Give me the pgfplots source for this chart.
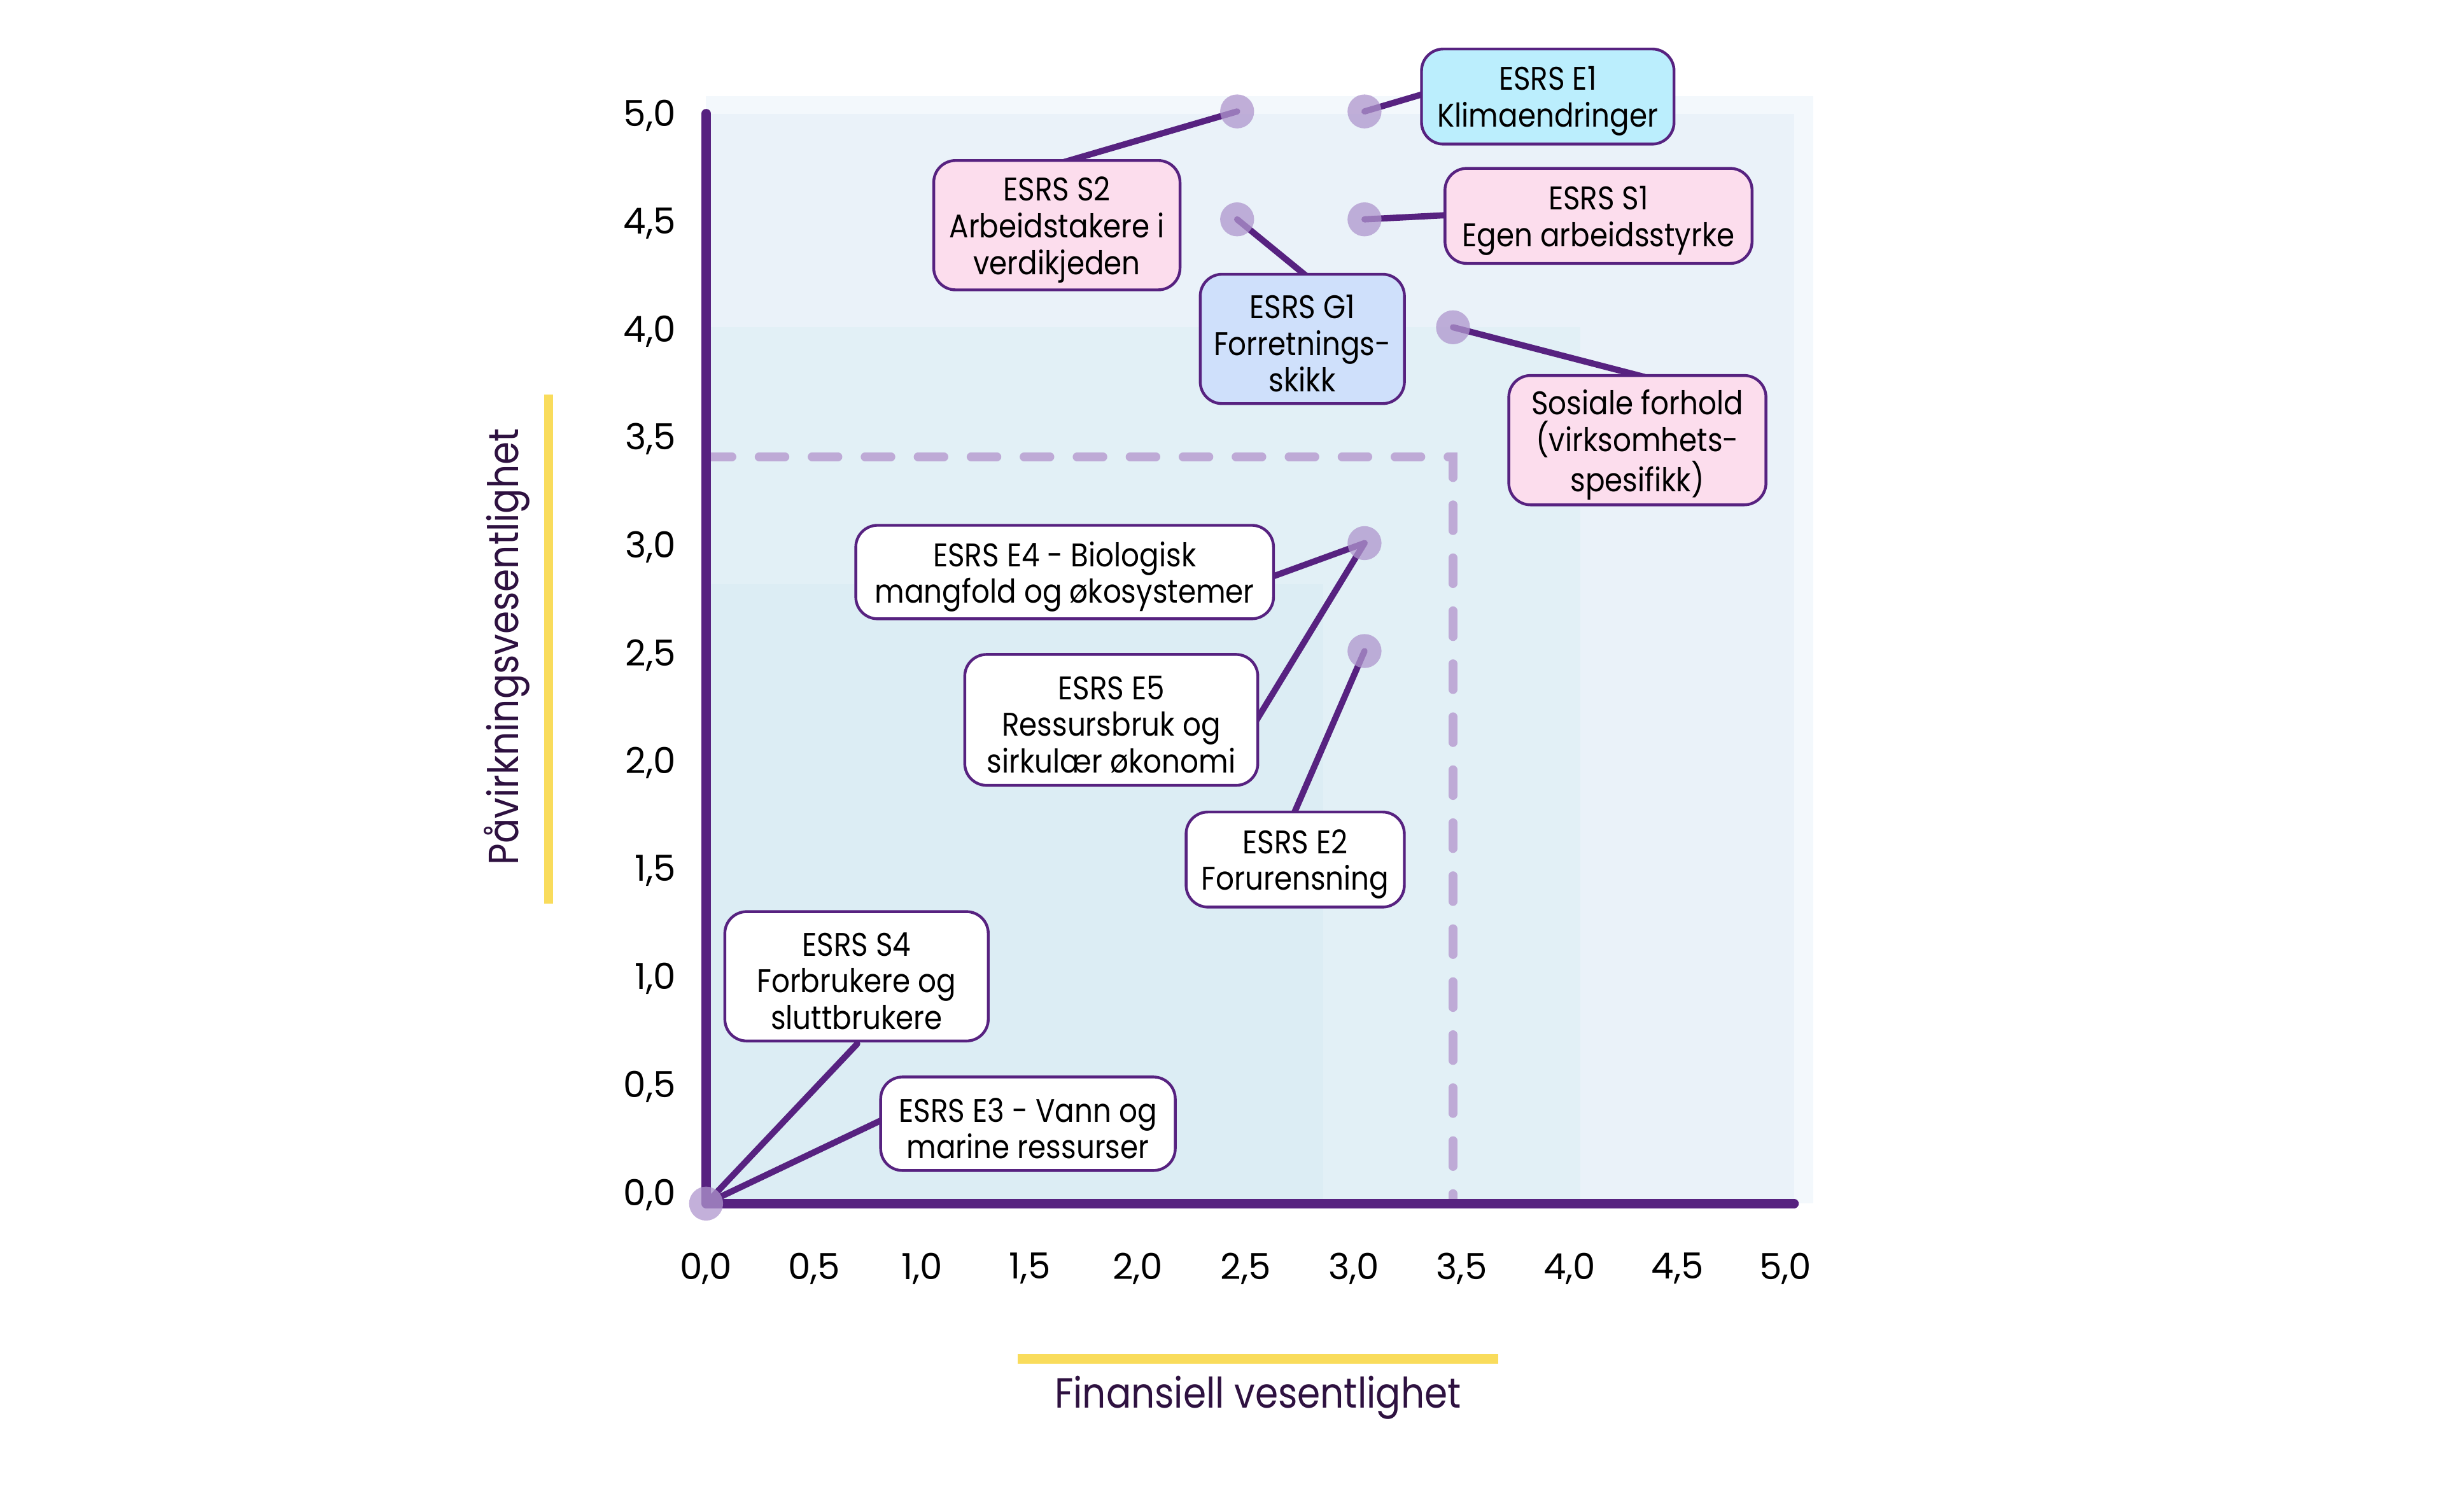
\documentclass[border=0pt]{standalone}
\usepackage{fontspec}
\setmainfont{Poppins}
\newfontfamily\boxfont{Poppins}[FakeStretch=0.88]
\usepackage{pgfplots}
\pgfplotsset{compat=1.18}
\definecolor{ink}{RGB}{87,34,128}
\definecolor{dot}{RGB}{175,150,205}
\definecolor{dashc}{RGB}{190,170,214}
\definecolor{bgA}{RGB}{220,237,244}
\definecolor{bgB}{RGB}{226,240,246}
\definecolor{bgC}{RGB}{234,242,249}
\definecolor{bgD}{RGB}{243,248,252}
\definecolor{cyanbox}{RGB}{187,238,253}
\definecolor{pinkbox}{RGB}{252,221,237}
\definecolor{bluebox}{RGB}{207,224,251}
\definecolor{ylab}{RGB}{46,17,64}
\definecolor{yel}{RGB}{249,220,92}
\tikzset{lblbox/.style={draw=ink, line width=0.9pt, rounded corners=7pt, inner sep=0pt},
  lbltxt/.style={align=center, font=\boxfont\fontsize{10.5}{11.75}\selectfont, inner sep=0pt, text=black, yshift=-1.5pt}}
\newcommand{\lab}[6]{%
  \node[lblbox, fill=#1, minimum width=#2, minimum height=#3] at (axis cs:#4,#5) {};
  \node[lbltxt] at (axis cs:#4,#5) {#6};}
\begin{document}
\begin{tikzpicture}
\path[use as bounding box] (0,0) rectangle (784pt,485pt);
\begin{axis}[at={(226.5pt,103pt)}, anchor=south west, scale only axis,
  width=346.25pt, height=346.25pt, xmin=0, xmax=5, ymin=0, ymax=5, clip=false,
  axis line style={draw=none}, major tick length=0pt, tick style={draw=none},
  xtick={0,0.5,1,1.5,2,2.5,3,3.5,4,4.5,5}, ytick={0,0.5,1,1.5,2,2.5,3,3.5,4,4.5,5},
  xticklabel style={anchor=center, yshift=-25pt},
  yticklabel style={anchor=east, inner sep=0pt, xshift=-9.5pt, yshift=-1.3pt},
  ticklabel style={font=\fontsize{11.5}{13}\selectfont, text=black},
  /pgf/number format/use comma, /pgf/number format/fixed,
  /pgf/number format/fixed zerofill, /pgf/number format/precision=1,
  /pgf/number format/assume math mode=true]
% background zones
\addplot[fill=bgD, draw=none] coordinates {(0,-0.06) (5.13,-0.06) (5.13,5.07) (0,5.07)};
\addplot[fill=bgC, draw=none] coordinates {(0,-0.06) (5.04,-0.06) (5.04,4.99) (0,4.99)};
\addplot[fill=bgB, draw=none] coordinates {(0,-0.06) (4.05,-0.06) (4.05,4.0) (0,4.0)};
\addplot[fill=bgA, draw=none] coordinates {(0,-0.06) (2.86,-0.06) (2.86,2.81) (0,2.81)};
% threshold
\addplot[dashc, line width=2.8pt, line cap=round, dash pattern=on 8.3pt off 8.7pt]
  coordinates {(0,3.40) (3.46,3.40) (3.46,-0.06)};
% axes
\addplot[ink, line width=3pt, line cap=round, line join=round]
  coordinates {(0,4.99) (0,-0.06) (5.04,-0.06)};
% points
\addplot[only marks, mark=*, mark size=5.45pt, draw=none,
  mark options={draw opacity=0, fill=dot, fill opacity=0.75}]
  coordinates {(2.46,5.0) (3.05,5.0) (2.46,4.5) (3.05,4.5) (3.46,4.0) (3.05,3.0) (3.05,2.5) (0,-0.06)};
% connectors
\addplot[ink, line width=2pt, line cap=round] coordinates {(3.05,5.0) (3.33,5.083)};
\addplot[ink, line width=2pt, line cap=round] coordinates {(2.46,5.0) (1.639,4.76)};
\addplot[ink, line width=2pt, line cap=round] coordinates {(3.05,4.5) (3.44,4.52)};
\addplot[ink, line width=2pt, line cap=round] coordinates {(2.46,4.5) (2.79,4.23)};
\addplot[ink, line width=2pt, line cap=round] coordinates {(3.46,4.0) (4.347,3.77)};
\addplot[ink, line width=2pt, line cap=round] coordinates {(3.05,3.0) (2.61,2.84)};
\addplot[ink, line width=2pt, line cap=round] coordinates {(3.05,3.0) (2.55,2.18)};
\addplot[ink, line width=2pt, line cap=round] coordinates {(3.05,2.5) (2.72,1.74)};
\addplot[ink, line width=2pt, line cap=round] coordinates {(0,-0.06) (0.70,0.68)};
\addplot[ink, line width=2pt, line cap=round] coordinates {(0,-0.06) (0.82,0.33)};
% labels
\lab{cyanbox}{81pt}{30.5pt}{3.899}{5.069}{ESRS E1\\Klimaendringer}
\lab{pinkbox}{79pt}{41.5pt}{1.625}{4.473}{ESRS S2\\Arbeidstakere i\\verdikjeden}
\lab{pinkbox}{98.5pt}{30.5pt}{4.134}{4.516}{ESRS S1\\Egen arbeidsstyrke}
\lab{bluebox}{65.5pt}{41.5pt}{2.762}{3.946}{ESRS G1\\Forretnings-\\skikk}
\lab{pinkbox}{82.5pt}{41.5pt}{4.314}{3.477}{Sosiale forhold\\(virksomhets-\\spesifikk)}
\lab{white}{134pt}{30pt}{1.661}{2.866}{ESRS E4 - Biologisk\\mangfold og økosystemer}
\lab{white}{94pt}{42pt}{1.877}{2.181}{ESRS E5\\Ressursbruk og\\sirkulær økonomi}
\lab{white}{70pt}{30.5pt}{2.729}{1.534}{ESRS E2\\Forurensning}
\lab{white}{84.5pt}{41.5pt}{0.697}{0.993}{ESRS S4\\Forbrukere og\\sluttbrukere}
\lab{white}{94.5pt}{30pt}{1.491}{0.310}{ESRS E3 - Vann og\\marine ressurser}
\end{axis}
\fill[yel] (174.5pt,195pt) rectangle (177.5pt,358.5pt);
\node[rotate=90, text=ylab, font=\boxfont\fontsize{13.5}{15}\selectfont] at (162.5pt,277.5pt) {Påvirkningsvesentlighet};
\fill[yel] (326.5pt,47.5pt) rectangle (480.5pt,50.5pt);
\node[text=ylab, font=\boxfont\fontsize{13.5}{15}\selectfont] at (403.5pt,36.5pt) {Finansiell vesentlighet};
\end{tikzpicture}
\end{document}
